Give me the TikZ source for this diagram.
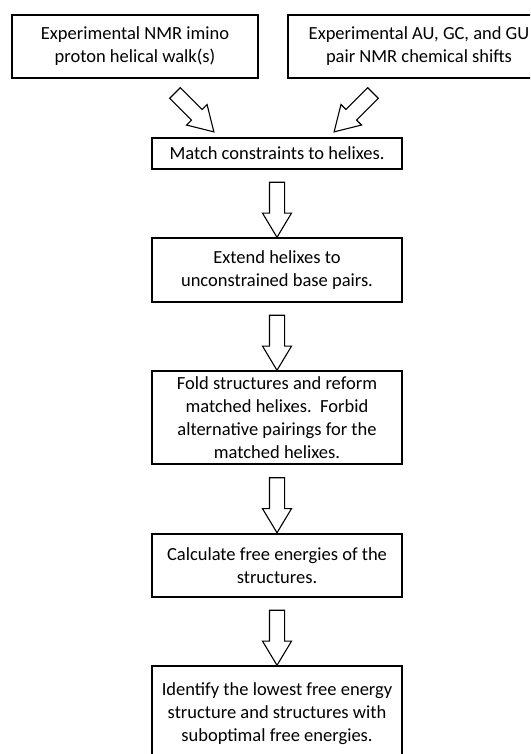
\documentclass[tikz,border=0pt]{standalone}
\usepackage{fontspec}
\setmainfont{Carlito}
\usetikzlibrary{calc,shapes.arrows}
\tikzset{
  stepbox/.style={draw,line width=1.2pt,align=center,inner sep=0pt,
    font=\fontsize{18.5}{23}\selectfont},
  blockarrow/.style={draw,line width=1.1pt,single arrow,inner sep=7pt,
    single arrow head extend=7pt,single arrow tip angle=62,
    minimum height=55pt,shape border uses incircle=false}
}

\begin{document}
\begin{tikzpicture}[x=1pt,y=-1pt]
\clip (0,0) rectangle (530,754);
\useasboundingbox (0,0) rectangle (530,754);

\node[stepbox,minimum width=246pt,minimum height=63pt] (walk) at (135,46.5)
  {Experimental NMR imino\\proton helical walk(s)};
\node[stepbox,minimum width=262pt,minimum height=63pt] (shifts) at (419,46.5)
  {Experimental AU, GC, and GU\\pair NMR chemical shifts};
\node[stepbox,minimum width=250pt,minimum height=31pt] (match) at (277,153.5)
  {Match constraints to helixes.};
\node[stepbox,minimum width=250pt,minimum height=64pt] (extend) at (277,270)
  {Extend helixes to\\unconstrained base pairs.};
\node[stepbox,minimum width=250pt,minimum height=93pt] (fold) at (277,417.5)
  {Fold structures and reform\\matched helixes.\ \ Forbid\\alternative pairings for the\\matched helixes.};
\node[stepbox,minimum width=250pt,minimum height=63pt] (calc) at (277,565.5)
  {Calculate free energies of the\\structures.};
\node[stepbox,minimum width=250pt,minimum height=96pt] (ident) at (277,714)
  {Identify the lowest free energy\\structure and structures with\\suboptimal free energies.};

% block arrows
\node[blockarrow,rotate=-45] (a1) at (190,108) {};
\node[blockarrow,rotate=-135] (a2) at (358,108) {};
\node[blockarrow,rotate=-90] (a3) at ($(match.south)!.5!(extend.north)$) {};
\node[blockarrow,rotate=-90] (a4) at ($(extend.south)!.5!(fold.north)$) {};
\node[blockarrow,rotate=-90] (a5) at ($(fold.south)!.5!(calc.north)$) {};
\node[blockarrow,rotate=-90] (a6) at ($(calc.south)!.5!(ident.north)$) {};
\end{tikzpicture}
\end{document}
